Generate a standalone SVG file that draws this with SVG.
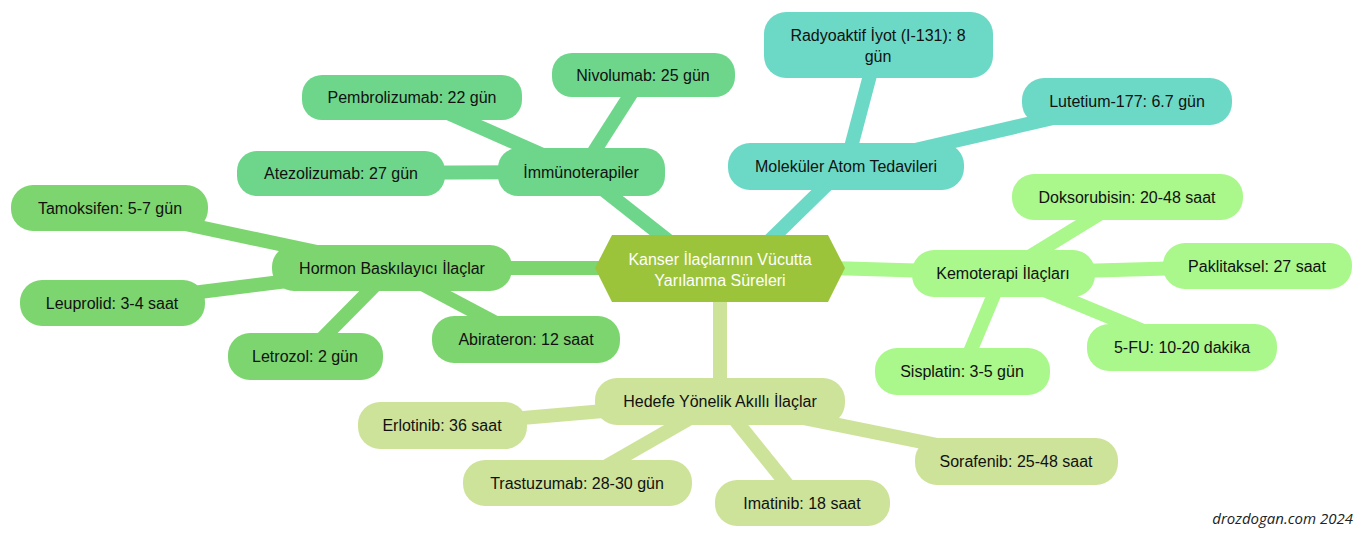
<svg xmlns="http://www.w3.org/2000/svg" width="1367" height="540" viewBox="0 0 1367 540">
<style>
text{font-family:"Liberation Sans",Arial,sans-serif;font-size:16px;fill:#111;text-anchor:middle}
.im{fill:#6dd68b}.mo{fill:#6cd9c6}.ke{fill:#aaf78b}.ho{fill:#7dd56f}.he{fill:#cee39a}
.c line{stroke-width:14;stroke-linecap:butt}
</style>
<rect width="1367" height="540" fill="#fff"/>
<g class="c" id="connectors">
<g stroke="#6dd68b">
<line x1="680" y1="250" x2="581" y2="172"/>
<line x1="581" y1="172" x2="643" y2="75"/>
<line x1="581" y1="172" x2="412" y2="97"/>
<line x1="581" y1="172" x2="341" y2="173"/>
</g>
<g stroke="#6cd9c6">
<line x1="760" y1="250" x2="846" y2="166"/>
<line x1="846" y1="166" x2="878" y2="45"/>
<line x1="846" y1="166" x2="1127" y2="101"/>
</g>
<g stroke="#aaf78b">
<line x1="830" y1="268" x2="1003" y2="273"/>
<line x1="1003" y1="273" x2="1127" y2="197"/>
<line x1="1003" y1="273" x2="1257" y2="266"/>
<line x1="1003" y1="273" x2="1182" y2="347"/>
<line x1="1003" y1="273" x2="962" y2="371"/>
</g>
<g stroke="#7dd56f">
<line x1="610" y1="268" x2="392" y2="268"/>
<line x1="392" y1="268" x2="110" y2="208"/>
<line x1="392" y1="268" x2="112" y2="303"/>
<line x1="392" y1="268" x2="305" y2="356"/>
<line x1="392" y1="268" x2="526" y2="339"/>
</g>
<g stroke="#cee39a">
<line x1="720" y1="300" x2="720" y2="401"/>
<line x1="720" y1="401" x2="442" y2="425"/>
<line x1="720" y1="401" x2="577" y2="483"/>
<line x1="720" y1="401" x2="802" y2="503"/>
<line x1="720" y1="401" x2="1016" y2="461"/>
</g>
</g>
<g id="center"><polygon points="595,268 612,235 828,235 845,268 828,302 612,302" fill="#9cc43a"/>
<text x="720" y="265" style="fill:#fff">Kanser İlaçlarının Vücutta</text><text x="720" y="286" style="fill:#fff">Yarılanma Süreleri</text></g>
<g id="immuno"><rect class="im" x="498" y="148" width="167" height="48" rx="20"/><text x="581" y="178">İmmünoterapiler</text></g>
<g id="nivolumab"><rect class="im" x="552" y="53" width="183" height="44" rx="20"/><text x="643" y="81">Nivolumab: 25 gün</text></g>
<g id="pembrolizumab"><rect class="im" x="302" y="75" width="220" height="45" rx="20"/><text x="412" y="103">Pembrolizumab: 22 gün</text></g>
<g id="atezolizumab"><rect class="im" x="237" y="151" width="208" height="45" rx="20"/><text x="341" y="179">Atezolizumab: 27 gün</text></g>
<g id="molekuler"><rect class="mo" x="728" y="143" width="236" height="47" rx="22"/><text x="846" y="172">Moleküler Atom Tedavileri</text></g>
<g id="radyoaktif"><rect class="mo" x="764" y="12" width="229" height="66" rx="22"/><text x="878" y="41">Radyoaktif İyot (I-131): 8</text><text x="878" y="62">gün</text></g>
<g id="lutetium"><rect class="mo" x="1022" y="78" width="210" height="47" rx="22"/><text x="1127" y="107">Lutetium-177: 6.7 gün</text></g>
<g id="kemoterapi"><rect class="ke" x="912" y="250" width="183" height="47" rx="22"/><text x="1003" y="279">Kemoterapi İlaçları</text></g>
<g id="doksorubisin"><rect class="ke" x="1012" y="174" width="231" height="46" rx="22"/><text x="1127" y="203">Doksorubisin: 20-48 saat</text></g>
<g id="paklitaksel"><rect class="ke" x="1163" y="243" width="189" height="46" rx="22"/><text x="1257" y="272">Paklitaksel: 27 saat</text></g>
<g id="fu"><rect class="ke" x="1087" y="324" width="190" height="47" rx="22"/><text x="1182" y="353">5-FU: 10-20 dakika</text></g>
<g id="sisplatin"><rect class="ke" x="875" y="348" width="175" height="47" rx="22"/><text x="962" y="377">Sisplatin: 3-5 gün</text></g>
<g id="hormon"><rect class="ho" x="272" y="245" width="240" height="46" rx="22"/><text x="392" y="274">Hormon Baskılayıcı İlaçlar</text></g>
<g id="tamoksifen"><rect class="ho" x="11" y="185" width="197" height="46" rx="22"/><text x="110" y="214">Tamoksifen: 5-7 gün</text></g>
<g id="leuprolid"><rect class="ho" x="20" y="280" width="185" height="46" rx="22"/><text x="112" y="309">Leuprolid: 3-4 saat</text></g>
<g id="letrozol"><rect class="ho" x="228" y="333" width="155" height="47" rx="22"/><text x="305" y="362">Letrozol: 2 gün</text></g>
<g id="abirateron"><rect class="ho" x="432" y="316" width="188" height="47" rx="22"/><text x="526" y="345">Abirateron: 12 saat</text></g>
<g id="hedefe"><rect class="he" x="595" y="378" width="250" height="47" rx="22"/><text x="720" y="407">Hedefe Yönelik Akıllı İlaçlar</text></g>
<g id="erlotinib"><rect class="he" x="358" y="402" width="169" height="47" rx="22"/><text x="442" y="431">Erlotinib: 36 saat</text></g>
<g id="trastuzumab"><rect class="he" x="463" y="460" width="229" height="46" rx="22"/><text x="577" y="489">Trastuzumab: 28-30 gün</text></g>
<g id="imatinib"><rect class="he" x="715" y="480" width="175" height="46" rx="22"/><text x="802" y="509">Imatinib: 18 saat</text></g>
<g id="sorafenib"><rect class="he" x="915" y="438" width="203" height="47" rx="22"/><text x="1016" y="467">Sorafenib: 25-48 saat</text></g>
<text x="1353" y="524" style="text-anchor:end;font-family:'Open Sans',sans-serif;font-style:italic;font-size:15px;fill:#222">drozdogan.com 2024</text>
</svg>
